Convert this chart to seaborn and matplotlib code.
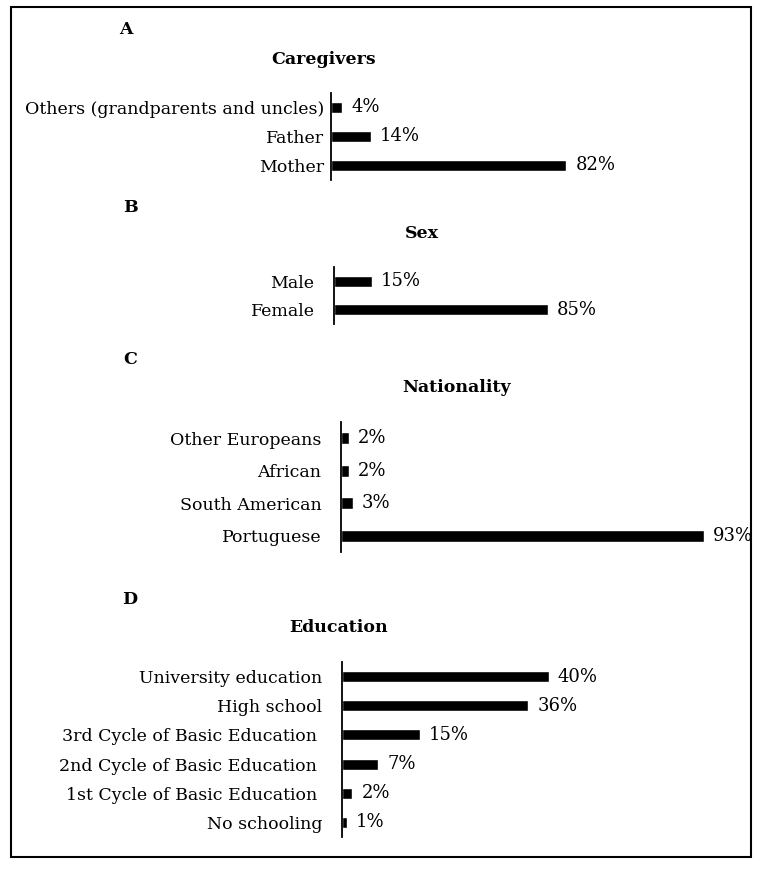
import matplotlib.pyplot as plt
import matplotlib.patches as patches
import pandas as pd
import seaborn as sns

# Data
caregivers = ['Others (grandparents and uncles)', 'Father', 'Mother']
caregivers_pct = [4, 14, 82]

sex = ['Male', 'Female']
sex_pct = [15, 85]

nationality = ['Other Europeans', 'African', 'South American', 'Portuguese']
nationality_pct = [2, 2, 3, 93]

education = ['University education', 'High school', '3rd Cycle of Basic Education ',
             '2nd Cycle of Basic Education ', '1st Cycle of Basic Education ', 'No schooling']
education_pct = [40, 36, 15, 7, 2, 1]

W, H = 763, 869
FS = 12.5

sns.set_theme(style='white')
plt.rcParams['font.family'] = ['DejaVu Serif']
plt.rcParams['text.color'] = 'black'

fig = plt.figure(figsize=(W / 100, H / 100), dpi=100)


def px_axes(left, top, width, height):
    return fig.add_axes([left / W, 1 - (top + height) / H, width / W, height / H])


def fig_text(x, y, s, **kw):
    fig.text(x / W, 1 - y / H, s, ha='center', va='center', fontsize=FS,
             fontweight='bold', color='black', **kw)


def panel(cats, vals, left, top, height, px_per_pct, xmax, label_pad):
    ax = px_axes(left, top, px_per_pct * xmax, height)
    df = pd.DataFrame({'cat': cats, 'pct': vals})
    sns.barplot(data=df, x='pct', y='cat', color='black', saturation=1,
                width=0.38, errorbar=None, ax=ax)
    ax.bar_label(ax.containers[0], labels=[f'{v}%' for v in vals],
                 padding=6.5, fontsize=FS + 0.5, color='black')
    ax.set_xlim(0, xmax)
    ax.set_ylim(len(cats) - 0.5, -0.5)
    ax.set_xticks([])
    ax.set_xlabel('')
    ax.set_ylabel('')
    ax.tick_params(axis='y', length=0, pad=label_pad, labelsize=FS, labelcolor='black')
    for lbl in ax.get_yticklabels():
        lbl.set_verticalalignment('center_baseline')
    for s in ['top', 'right', 'bottom']:
        ax.spines[s].set_visible(False)
    ax.spines['left'].set_color('black')
    ax.spines['left'].set_linewidth(1.3)
    ax.patch.set_alpha(0)
    return ax


# A - Caregivers
fig_text(126, 29, 'A')
fig_text(324, 60, 'Caregivers')
panel(caregivers, caregivers_pct, 331, 93, 87, 2.87, 100, 5)

# B - Sex
fig_text(130, 208, 'B')
fig_text(422, 234, 'Sex')
panel(sex, sex_pct, 334, 267, 57, 2.52, 100, 14)

# C - Nationality
fig_text(130, 360, 'C')
fig_text(457, 388, 'Nationality')
panel(nationality, nationality_pct, 341, 422, 130, 3.9, 100, 14)

# D - Education
fig_text(130, 599, 'D')
fig_text(339, 628, 'Education')
panel(education, education_pct, 342, 662, 175, 5.17, 60, 14)

# outer frame
fig.patches.append(patches.Rectangle((11 / W, 1 - 857 / H), 740 / W, 850 / H,
                                     transform=fig.transFigure, fill=False,
                                     edgecolor='black', linewidth=1.5))

fig.savefig('out.png', dpi=100)
